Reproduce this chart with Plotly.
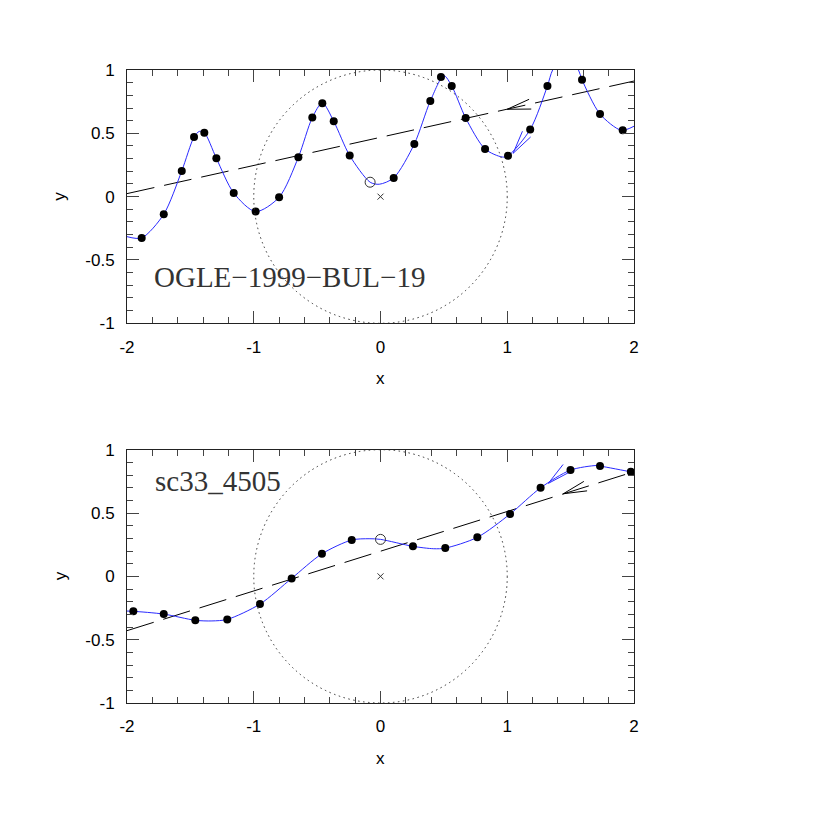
import numpy as np
import plotly.graph_objects as go

# ---------------- data ----------------
# Top panel: OGLE-1999-BUL-19
top_dot_x = [-1.884, -1.71, -1.568, -1.471, -1.39, -1.295, -1.158, -0.985, -0.80, -0.648,
             -0.538, -0.459, -0.369, -0.243, 0.104, 0.267, 0.393, 0.477, 0.562, 0.672,
             0.825, 1.006, 1.181, 1.317, 1.59, 1.732, 1.911]
top_dot_y = [-0.326, -0.139, 0.203, 0.471, 0.505, 0.303, 0.029, -0.118, -0.005, 0.311,
             0.624, 0.737, 0.595, 0.324, 0.148, 0.416, 0.755, 0.945, 0.874, 0.621,
             0.376, 0.322, 0.530, 0.874, 0.923, 0.652, 0.525]
top_curve_x = [-2.0, -1.884, -1.71, -1.568, -1.471, -1.43, -1.39, -1.295, -1.158, -0.985,
               -0.80, -0.648, -0.538, -0.459, -0.369, -0.243, -0.082, -0.01, 0.104, 0.267,
               0.393, 0.50, 0.562, 0.672, 0.825, 0.96, 1.006, 1.181, 1.317, 1.358, 1.46,
               1.562, 1.59, 1.732, 1.90, 2.0]
top_curve_y = [-0.316, -0.326, -0.139, 0.203, 0.471, 0.515, 0.505, 0.303, 0.029, -0.118,
               -0.005, 0.311, 0.624, 0.740, 0.595, 0.324, 0.114, 0.098, 0.148, 0.416,
               0.755, 0.955, 0.874, 0.621, 0.376, 0.313, 0.322, 0.530, 0.874, 1.0, 1.14,
               1.0, 0.923, 0.652, 0.524, 0.556]
top_open_x, top_open_y = [-0.082], [0.114]
top_lens_x, top_lens_y = [0.0], [0.0]
top_dash_x = [-2.0, 2.0]
top_dash_y = [0.024, 0.913]
top_label = "OGLE\u22121999\u2212BUL\u221219"

# Bottom panel: sc33_4505
bot_dot_x = [-1.95, -1.71, -1.461, -1.209, -0.951, -0.701, -0.462, -0.227, 0.256, 0.511,
             0.764, 1.022, 1.263, 1.499, 1.732, 1.975]
bot_dot_y = [-0.276, -0.298, -0.347, -0.340, -0.219, -0.016, 0.178, 0.287, 0.237, 0.223,
             0.308, 0.492, 0.699, 0.839, 0.871, 0.825]
bot_curve_x = [-2.0, -1.95, -1.71, -1.461, -1.33, -1.209, -0.951, -0.701, -0.462, -0.227,
               -0.09, 0.0, 0.256, 0.42, 0.511, 0.764, 1.022, 1.263, 1.499, 1.70, 1.732,
               1.975, 2.0]
bot_curve_y = [-0.274, -0.276, -0.298, -0.347, -0.352, -0.340, -0.219, -0.016, 0.178, 0.287,
               0.297, 0.292, 0.237, 0.218, 0.223, 0.308, 0.492, 0.699, 0.839, 0.875, 0.871,
               0.825, 0.820]
bot_open_x, bot_open_y = [0.0], [0.292]
bot_lens_x, bot_lens_y = [0.0], [0.0]
bot_dash_x = [-2.0, 2.0]
bot_dash_y = [-0.429, 0.826]
bot_label = "sc33_4505"

# arrow tips (data) and arrow directions (deg, screen space, pointing to the tail side)
top_dash_arrow = (1.0, 0.690)
top_curve_arrow = (1.046, 0.342)
bot_dash_arrow = (1.442, 0.652)
bot_curve_arrow = (1.324, 0.734)
top_dash_arrow_dir = 12.5
top_curve_arrow_dir = 55.0
bot_dash_arrow_dir = 19.0
bot_curve_arrow_dir = 40.0

x_ticks = [-2, -1, 0, 1, 2]
x_tick_labels = ["-2", "-1", "0", "1", "2"]
y_ticks = [-1, -0.5, 0, 0.5, 1]
y_tick_labels = ["-1", "-0.5", "0", "0.5", "1"]

# ---------------- layout geometry ----------------
W = H = 830
OFF = 8  # page body margin
XDOM = [(127 - OFF) / W, (634 - OFF) / W]
TOP_DOM = [1 - (323.3 - OFF) / H, 1 - (70 - OFF) / H]
BOT_DOM = [1 - (703 - OFF) / H, 1 - (449.7 - OFF) / H]
XR = [-2, 2]
YR = [-1, 1]

BLUE = "#2a2aff"
FONT = "Liberation Sans"
SERIF = "Liberation Serif"

fig = go.Figure()


def wings(tip, ang_deg, dom_y, length=24, half=12):
    sx = (XDOM[1] - XDOM[0]) * W / (XR[1] - XR[0])
    sy = (dom_y[1] - dom_y[0]) * H / (YR[1] - YR[0])
    xs, ys = [], []
    for s in (+1, -1):
        a = np.radians(ang_deg + s * half)
        xs += [tip[0] + length * np.cos(a) / sx, tip[0], None]
        ys += [tip[1] + length * np.sin(a) / sy, tip[1], None]
    return xs, ys


panels = [
    dict(xa="x", ya="y", dom=TOP_DOM, cx=top_curve_x, cy=top_curve_y, dx=top_dot_x, dy=top_dot_y,
         ox=top_open_x, oy=top_open_y, lx=top_lens_x, ly=top_lens_y, sx=top_dash_x, sy=top_dash_y,
         da=top_dash_arrow, dad=top_dash_arrow_dir, ca=top_curve_arrow, cad=top_curve_arrow_dir),
    dict(xa="x2", ya="y2", dom=BOT_DOM, cx=bot_curve_x, cy=bot_curve_y, dx=bot_dot_x, dy=bot_dot_y,
         ox=bot_open_x, oy=bot_open_y, lx=bot_lens_x, ly=bot_lens_y, sx=bot_dash_x, sy=bot_dash_y,
         da=bot_dash_arrow, dad=bot_dash_arrow_dir, ca=bot_curve_arrow, cad=bot_curve_arrow_dir),
]

for p in panels:
    kw = dict(xaxis=p["xa"], yaxis=p["ya"], showlegend=False, hoverinfo="skip")
    fig.add_trace(go.Scatter(x=p["sx"], y=p["sy"], mode="lines",
                             line=dict(color="black", width=1, dash="28px,10px"), **kw))
    wx, wy = wings(p["da"], p["dad"], p["dom"])
    fig.add_trace(go.Scatter(x=wx, y=wy, mode="lines", line=dict(color="black", width=1), **kw))
    fig.add_trace(go.Scatter(x=p["cx"], y=p["cy"], mode="lines",
                             line=dict(color=BLUE, width=1, shape="spline", smoothing=0.8), **kw))
    wx, wy = wings(p["ca"], p["cad"], p["dom"])
    fig.add_trace(go.Scatter(x=wx, y=wy, mode="lines", line=dict(color=BLUE, width=1), **kw))
    fig.add_trace(go.Scatter(x=p["dx"], y=p["dy"], mode="markers",
                             marker=dict(color="black", size=8, line=dict(width=0)), **kw))
    fig.add_trace(go.Scatter(x=p["ox"], y=p["oy"], mode="markers",
                             marker=dict(symbol="circle-open", color="#333", size=10,
                                         line=dict(width=1)), **kw))
    fig.add_trace(go.Scatter(x=p["lx"], y=p["ly"], mode="markers",
                             marker=dict(symbol="x-thin-open", color="#333", size=6,
                                         line=dict(width=1, color="#333")), **kw))
    fig.add_shape(type="circle", xref=p["xa"], yref=p["ya"], x0=-1, y0=-1, x1=1, y1=1,
                  line=dict(color="#333", width=1, dash="1.5px,3.5px"))

axis_common = dict(range=XR, showgrid=False, zeroline=False, showline=True, mirror="ticks",
                   linecolor="#222", linewidth=1, ticks="inside", ticklen=12, tickcolor="#444",
                   tickwidth=1, tickfont=dict(family=FONT, size=17, color="black"),
                   ticklabelstandoff=8, automargin=False)

fig.update_layout(
    width=W, height=H, autosize=False,
    margin=dict(l=0, r=0, t=0, b=0, pad=0, autoexpand=False),
    plot_bgcolor="white", paper_bgcolor="white",
    xaxis=dict(axis_common, domain=XDOM, anchor="y", tickmode="array", tickvals=x_ticks,
               ticktext=x_tick_labels,
               minor=dict(tickmode="linear", tick0=0, dtick=0.2, ticks="inside", ticklen=6,
                          tickcolor="#444")),
    yaxis=dict(axis_common, range=YR, domain=TOP_DOM, anchor="x", tickmode="array",
               tickvals=y_ticks, ticktext=y_tick_labels,
               minor=dict(tickmode="linear", tick0=0, dtick=0.1, ticks="inside", ticklen=6,
                          tickcolor="#444")),
    xaxis2=dict(axis_common, domain=XDOM, anchor="y2", tickmode="array", tickvals=x_ticks,
                ticktext=x_tick_labels,
                minor=dict(tickmode="linear", tick0=0, dtick=0.2, ticks="inside", ticklen=6,
                           tickcolor="#444")),
    yaxis2=dict(axis_common, range=YR, domain=BOT_DOM, anchor="x2", tickmode="array",
                tickvals=y_ticks, ticktext=y_tick_labels,
                minor=dict(tickmode="linear", tick0=0, dtick=0.1, ticks="inside", ticklen=6,
                           tickcolor="#444")),
)

for xa, ya in (("x", "y"), ("x2", "y2")):
    fig.add_annotation(text="x", xref=f"{xa} domain", yref=f"{ya} domain", x=0.5, y=0,
                       yshift=-55, showarrow=False, yanchor="middle",
                       font=dict(family=FONT, size=17, color="black"))
    fig.add_annotation(text="y", xref=f"{xa} domain", yref=f"{ya} domain", x=0, y=0.5,
                       xshift=-67, showarrow=False, textangle=-90, xanchor="center",
                       font=dict(family=FONT, size=17, color="black"))

fig.add_annotation(text=top_label, xref="x", yref="y", x=-1.80, y=-0.635, showarrow=False,
                   xanchor="left", yanchor="middle",
                   font=dict(family=SERIF, size=29, color="#333"))
fig.add_annotation(text=bot_label, xref="x2", yref="y2", x=-1.795, y=0.75, showarrow=False,
                   xanchor="left", yanchor="middle",
                   font=dict(family=SERIF, size=29, color="#333"))

fig.write_html("out.html")
